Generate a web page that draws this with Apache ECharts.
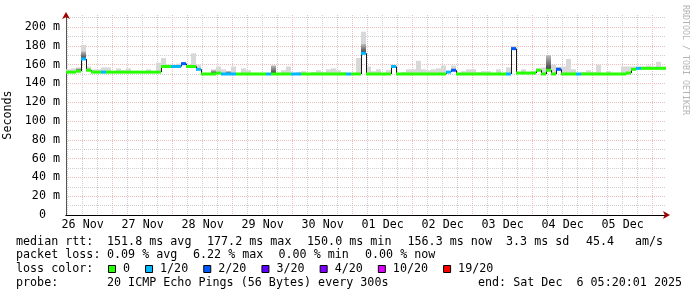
<!DOCTYPE html>
<html><head><meta charset="utf-8">
<script src="https://cdn.jsdelivr.net/npm/echarts@6/dist/echarts.min.js"></script>
<style>html,body{margin:0;padding:0;background:#fff}#c{width:697px;height:297px}</style>
</head><body><div id="c"></div>
<script>
// ---- data (2-hour buckets, starting Nov 26 05:20) ----
const bucketHours = 2;
const dayLabels = ['26 Nov','27 Nov','28 Nov','29 Nov','30 Nov','01 Dec','02 Dec','03 Dec','04 Dec','05 Dec'];
const yTickValues = [0,20,40,60,80,100,120,140,160,180,200];
const medianRtt = [
 152,152,153,166,154,152,152,152,152,152,
 152,152,152,152,152,152,152,152,152,158,
 158,158,158,161,158,158,155,150,150,150,
 151,150,150,150,150,150,150,150,150,150,
 150,150,150,150,150,150,150,150,150,150,
 150,150,150,150,150,150,150,150,150,172,
 150,150,150,150,150,158,150,150,150,150,
 150,150,150,150,150,150,152,154,150,150,
 150,150,150,150,150,150,150,150,150,177,
 151,151,151,151,154,150,154,150,155,150,
 150,150,150,150,150,150,150,150,150,150,
 150,150,151,155,156,156,156,156,156,156];
const lossCount = [
 0,0,0,1,0,0,0,1,0,0,
 0,0,0,0,0,0,0,0,0,0,
 0,1,1,2,0,0,1,0,0,0,
 0,1,1,1,0,0,0,0,0,0,
 1,0,0,0,0,1,1,0,0,0,
 0,0,0,0,0,0,1,0,0,1,
 0,0,0,0,0,1,0,0,0,0,
 0,0,0,0,0,0,1,2,0,0,
 0,0,0,0,0,0,0,0,1,2,
 0,0,0,0,0,0,0,0,2,0,
 0,0,1,0,0,0,0,0,0,0,
 0,0,0,0,1,0,0,0,0,0];
const smokeTop = [
 155,156,157,181,158,155,155,157,157,153,
 156,154,156,153,153,153,155,153,162,167,
 160,160,161,162,160,172,160,151,151,155,
 158,155,153,158,151,156,154,151,151,151,
 151,159,151,154,158,151,152,153,151,152,
 154,152,155,156,154,152,151,151,167,195,
 158,153,155,151,154,160,151,152,155,155,
 164,155,154,155,156,159,153,159,151,153,
 155,155,152,153,153,151,155,151,157,180,
 152,155,152,153,156,157,170,160,157,158,
 166,155,151,152,154,152,160,151,153,151,
 151,158,158,158,158,158,159,158,163,158];
const smokeDark = [
 0,0,156,174,156,0,0,0,0,0,
 0,0,0,0,0,0,0,0,0,0,
 0,0,0,0,0,0,0,0,0,154,
 0,0,153,0,0,0,0,0,0,0,
 0,159,0,0,0,0,0,0,0,0,
 0,0,0,0,0,0,0,0,0,182,
 0,0,0,0,0,0,0,0,0,0,
 0,0,0,0,0,0,0,0,0,0,
 0,0,0,0,0,0,0,0,0,176,
 0,0,0,0,0,0,170,0,157,0,
 0,0,0,0,0,0,0,0,0,0,
 0,0,0,0,0,0,0,0,0,0];
const lossLevels = [0,1,2,3,4,10,19];
const lossLabels = ['0','1/20','2/20','3/20','4/20','10/20','19/20'];
const lossColors = ['#26ff00','#00b8ff','#0059ff','#5e00ff','#7e00ff','#dd00ff','#ff0000'];

// ---- time categories (20-minute steps over 10 days) ----
const startMinute = 5*60 + 20;
const stepMin = 20;
const nCats = 10*24*(60/stepMin) + 1;
const cats = Array.from({length: nCats}, (_, k) => String(k));
const absMin = k => startMinute + k*stepMin;
const isMidnight = k => absMin(k) % 1440 === 0;
const isSixHour = k => absMin(k) % 360 === 0;
const isNoon = k => absMin(k) % 1440 === 720;

const FONT = '"DejaVu Sans Mono", monospace';
const FS = 11.7;

function lossColor(n) {
  let j = 0;
  for (let i = 0; i < lossLevels.length; i++) if (n >= lossLevels[i]) j = i;
  return lossColors[j];
}

const seriesData = medianRtt.map((m, i) => [
  i*bucketHours, (i+1)*bucketHours, m, lossCount[i], smokeTop[i], smokeDark[i],
  i > 0 ? medianRtt[i-1] : m
]);

function renderItem(params, api) {
  const t0 = api.value(0), t1 = api.value(1), med = api.value(2), loss = api.value(3);
  const top = api.value(4), dark = api.value(5), prev = api.value(6);
  const p0 = api.coord([t0, med]), p1 = api.coord([t1, med]);
  const x0 = Math.round(p0[0]), x1 = Math.round(p1[0]);
  const yMed = p0[1];
  const ch = [];
  if (top > med) {
    const yt = api.coord([t0, top])[1];
    ch.push({type:'rect', shape:{x:x0, y:yt, width:x1-x0, height:yMed-yt}, style:{fill:'#d8d8d8'}});
  }
  if (dark > med) {
    const yd = api.coord([t0, dark])[1];
    ch.push({type:'rect', shape:{x:x0, y:yd, width:x1-x0, height:yMed-yd},
      style:{fill:new echarts.graphic.LinearGradient(0,0,0,1,[{offset:0,color:'#bdbdbd'},{offset:1,color:'#3a3a3a'}])}});
  }
  if (prev !== med) {
    const yp = api.coord([t0, prev])[1];
    ch.push({type:'line', shape:{x1:x0+0.5, y1:yp, x2:x0+0.5, y2:yMed}, style:{stroke:'#1a1a1a', lineWidth:1}});
  }
  ch.push({type:'rect', shape:{x:x0, y:yMed-1.5, width:x1-x0, height:3}, style:{fill:lossColor(loss)}});
  return {type:'group', children:ch};
}

// ---- legend / statistics text ----
const txt = (x, y, s, extra) => Object.assign({type:'text', x:x, y:y, silent:true,
  style:{text:s, font: FS + 'px ' + FONT, fill:'#000', align:'left', verticalAlign:'middle', textAlign:'left', textVerticalAlign:'middle'}}, extra||{});
const graphics = [
  txt(16, 241.5, 'median rtt:'), txt(107, 241.5, '151.8 ms avg'), txt(207, 241.5, '177.2 ms max'),
  txt(307, 241.5, '150.0 ms min'), txt(407.5, 241.5, '156.3 ms now'), txt(506, 241.5, '3.3 ms sd'),
  txt(586, 241.5, '45.4'), txt(635, 241.5, 'am/s'),
  txt(16, 255.3, 'packet loss:'), txt(107, 255.3, '0.09 % avg'), txt(193, 255.3, '6.22 % max'),
  txt(278.5, 255.3, '0.00 % min'), txt(365, 255.3, '0.00 % now'),
  txt(16, 269, 'loss color:'),
  txt(16, 282.8, 'probe:'), txt(107, 282.8, '20 ICMP Echo Pings (56 Bytes) every 300s'),
  txt(478, 282.8, 'end: Sat Dec  6 05:20:01 2025'),
  {type:'text', x:685, y:5, rotation:-Math.PI/2, silent:true,
   style:{text:'RRDTOOL / TOBI OETIKER', font:'8.3px ' + FONT, fill:'#b4b4b4', align:'left', verticalAlign:'middle', textAlign:'left', textVerticalAlign:'middle'}}
];
let lx = 108.5;
lossLabels.forEach((lab, i) => {
  graphics.push({type:'rect', silent:true, shape:{x:lx, y:265.5, width:7, height:7}, style:{fill:lossColors[i], stroke:'#000', lineWidth:1}});
  graphics.push(txt(lx+14.5, 269, lab));
  lx += 14 + lab.length*7.05 + 16;
});

const RED = '#f2bcbc', GRAY = '#cfcfcf';
const chart = echarts.init(document.getElementById('c'), null, {renderer:'canvas'});
chart.setOption({
  animation:false,
  backgroundColor:'#ffffff',
  grid:{left:66, right:31, top:15, bottom:82, containLabel:false, outerBoundsMode:'none'},
  xAxis:[
    {type:'value', min:0, max:240, show:false},
    {type:'category', data:cats, boundaryGap:false, position:'bottom',
     axisLine:{show:true, lineStyle:{color:'#a00000', width:1}, symbol:['none','arrow'], symbolSize:[6,7], symbolOffset:[0,4]},
     axisTick:{show:false},
     axisLabel:{interval:(i)=>isNoon(i), formatter:(v,i)=>dayLabels[Math.floor(absMin(i)/1440)] || '',
       fontFamily:FONT, fontSize:FS, color:'#000', margin:4},
     splitLine:{show:true, interval:(i)=>isSixHour(i), lineStyle:{color:GRAY, type:[1,1], width:1}}},
    {type:'category', data:cats, boundaryGap:false, position:'bottom',
     axisLine:{show:true, lineStyle:{color:'#000', width:1}}, axisTick:{show:false}, axisLabel:{show:false},
     splitLine:{show:true, interval:(i)=>isMidnight(i), lineStyle:{color:RED, type:[1,1], width:1}}}
  ],
  yAxis:[
    {type:'value', min:0, max:212.766, interval:10, position:'left',
     axisLine:{show:true, lineStyle:{color:'#a00000'}, symbol:['none','arrow'], symbolSize:[6,7], symbolOffset:[0,3]},
     axisTick:{show:false},
     axisLabel:{showMaxLabel:false, formatter:(v)=> yTickValues.indexOf(v) >= 0 ? (v === 0 ? '0  ' : v + ' m') : '',
       fontFamily:FONT, fontSize:FS, color:'#000', margin:6},
     splitLine:{show:true, showMaxLine:false, lineStyle:{color:GRAY, type:[1,1], width:1}},
     name:'Seconds', nameLocation:'middle', nameGap:47,
     nameTextStyle:{fontFamily:FONT, fontSize:FS, color:'#000'}},
    {type:'value', min:0, max:212.766, interval:20, position:'left',
     axisLine:{show:true, lineStyle:{color:'#555'}}, axisTick:{show:false}, axisLabel:{show:false},
     splitLine:{show:true, showMinLine:false, showMaxLine:false, lineStyle:{color:RED, type:[1,1], width:1}}}
  ],
  series:[{
    type:'custom', xAxisIndex:0, yAxisIndex:0, renderItem:renderItem, data:seriesData,
    encode:{x:[0,1], y:[2,4]}, clip:true, silent:true
  }],
  graphic:{elements:graphics}
});
</script></body></html>
